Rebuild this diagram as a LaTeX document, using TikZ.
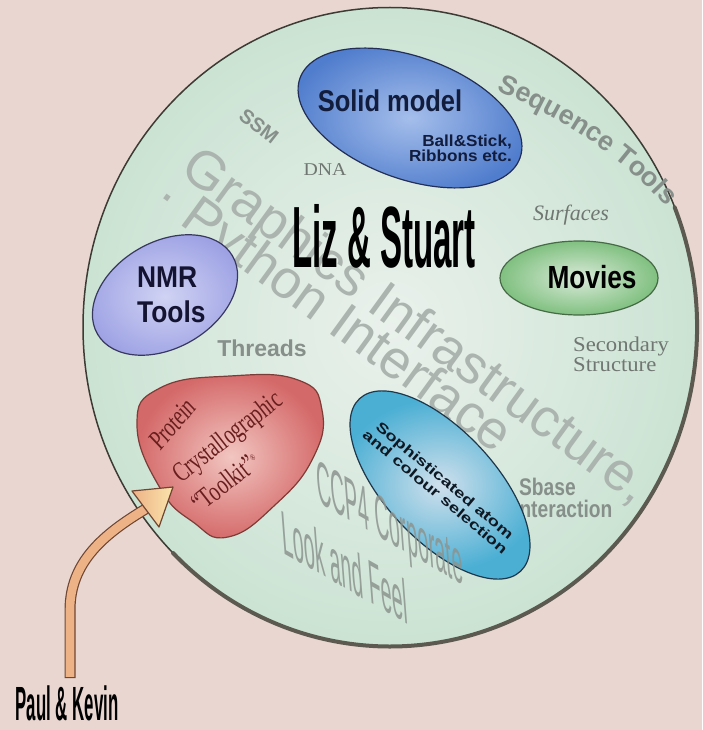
\documentclass[tikz,border=0pt]{standalone}
\usepackage{fontspec}
\setmainfont{Liberation Serif}
\setsansfont{Liberation Sans}
\usetikzlibrary{decorations.text}

\definecolor{bgpink}{RGB}{233,214,209}
\definecolor{mintout}{RGB}{203,227,211}
\definecolor{mintin}{RGB}{234,241,236}
\definecolor{rimdark}{RGB}{60,60,52}
\definecolor{rimshadow}{RGB}{92,90,80}
\definecolor{wmgray}{RGB}{172,180,175}
\definecolor{lblgray}{RGB}{135,143,138}
\definecolor{ccpgray}{RGB}{140,148,143}
\definecolor{serifgray}{RGB}{112,118,113}
\definecolor{solidbase}{RGB}{80,125,205}
\definecolor{solidlight}{RGB}{165,190,235}
\definecolor{solidedge}{RGB}{35,45,85}
\definecolor{solidink}{RGB}{18,28,60}
\definecolor{nmrbase}{RGB}{158,162,228}
\definecolor{nmrlight}{RGB}{208,211,243}
\definecolor{nmredge}{RGB}{55,55,95}
\definecolor{nmrink}{RGB}{20,20,50}
\definecolor{movbase}{RGB}{128,192,128}
\definecolor{movlight}{RGB}{218,234,218}
\definecolor{movedge}{RGB}{70,105,70}
\definecolor{protbase}{RGB}{212,105,105}
\definecolor{protlight}{RGB}{242,198,193}
\definecolor{protedge}{RGB}{125,60,55}
\definecolor{protink}{RGB}{105,30,30}
\definecolor{sophbase}{RGB}{75,175,212}
\definecolor{sophlight}{RGB}{208,224,236}
\definecolor{sophedge}{RGB}{30,55,75}
\definecolor{sophink}{RGB}{15,25,35}
\definecolor{arrowfill}{RGB}{238,178,135}
\definecolor{arrowlight}{RGB}{250,228,172}
\definecolor{arrowedge}{RGB}{110,70,50}

\newcommand{\seqfont}{\sffamily\bfseries\fontsize{27}{27}\selectfont}

\begin{document}
\begin{tikzpicture}[x=1pt, y=-1pt,
  lbl/.style={text=lblgray, inner sep=0, font=\sffamily\bfseries\fontsize{23}{23}\selectfont},
  serifl/.style={text=serifgray, inner sep=0},
  wm/.style={text=wmgray, inner sep=0, font=\sffamily\fontsize{54}{54}\selectfont, rotate=-36},
  ccp/.style={text=ccpgray, opacity=0.85, inner sep=0, anchor=base west,
    font=\sffamily\fontsize{60}{60}\selectfont, yslant=-0.57, xslant=-0.08, xscale=0.33},
  heading/.style={inner sep=0, font=\sffamily\bfseries\fontsize{30}{30}\selectfont},
  prot/.style={text=protink, inner sep=0, anchor=base west, font=\rmfamily\fontsize{28}{28}\selectfont, rotate=38, xscale=0.7},
  bubble/.style={line width=1.2pt}
]
\useasboundingbox (0,0) rectangle (702,730);
\fill[bgpink] (0,0) rectangle (702,730);

% main disc
\shade[inner color=mintin, outer color=mintout] (390,327) ellipse[x radius=307, y radius=319.5];
\draw[rimdark, line width=1.5pt] (390,327) ellipse[x radius=307, y radius=319.5];
\draw[rimshadow, line width=4pt, line cap=round] (390,327) ++(-22:307 and 319.5)
  arc[start angle=-22, end angle=135, x radius=307, y radius=319.5];

% watermark text
\node[wm] (graphics) at (415,328) {Graphics Infrastructure,};
\node[wm] (python) at (332,318) {· Python Interface};

% grey labels
\path[decorate, decoration={text along path, text color=lblgray, text align=center,
  text={|\seqfont|Sequence Tools}}] (472,80) .. controls (545,110) and (625,150) .. (683,228);
\node[lbl, rotate=-38, font=\sffamily\bfseries\fontsize{20}{20}\selectfont] (ssm) at (259,126) {SSM};
\node[serifl, font=\rmfamily\fontsize{18}{18}\selectfont, xscale=1.1] (dna) at (325,170) {DNA};
\node[serifl, font=\rmfamily\itshape\fontsize{22}{22}\selectfont] (surf) at (571,215) {Surfaces};
\node[serifl, anchor=west, font=\rmfamily\fontsize{21}{21}\selectfont, xscale=1.08] (sec1) at (573,346) {Secondary};
\node[serifl, anchor=west, font=\rmfamily\fontsize{21}{21}\selectfont, xscale=1.08] (sec2) at (573,365) {Structure};
\node[lbl] (threads) at (262,348) {Threads};
\node[lbl, anchor=west, font=\sffamily\bfseries\fontsize{24}{24}\selectfont, xscale=0.8] (sbase) at (519,487) {Sbase};
\node[lbl, anchor=west, font=\sffamily\bfseries\fontsize{24}{24}\selectfont, xscale=0.8] (inter) at (514,509) {Interaction};

% Liz & Stuart
\node[inner sep=0, font=\sffamily\bfseries\fontsize{87}{87}\selectfont, xscale=0.38] (liz) at (384,236) {Liz \& Stuart};

% Solid model
\shadedraw[bubble, shift={(410,118)}, rotate=-20, inner color=solidlight, outer color=solidbase, draw=solidedge]
  (0,0) ellipse[x radius=117, y radius=61];
\node[heading, text=solidink, xscale=0.85] (solid) at (390,101) {Solid model};
\node[inner sep=0, anchor=east, align=right, text=solidink, xscale=1.07,
  font=\sffamily\bfseries\fontsize{16}{15}\selectfont] (ball) at (512,148) {Ball\&Stick,\\Ribbons etc.};

% NMR
\shadedraw[bubble, shift={(165,295)}, rotate=30, inner color=nmrlight, outer color=nmrbase, draw=nmredge]
  (0,0) ellipse[x radius=78, y radius=53];
\node[heading, text=nmrink, anchor=west, xscale=0.88] (nmr) at (137,277) {NMR};
\node[heading, text=nmrink, anchor=west, xscale=0.88] (tools) at (137,312) {Tools};

% Movies
\shadedraw[bubble, inner color=movlight, outer color=movbase, draw=movedge]
  (579,278) ellipse[x radius=79, y radius=37];
\node[heading, font=\sffamily\bfseries\fontsize{32}{32}\selectfont, xscale=0.82] (movies) at (592,277) {Movies};

% Protein blob
\shadedraw[bubble, inner color=protlight, outer color=protbase, draw=protedge]
  plot[smooth cycle, tension=0.8] coordinates {(137,425) (160,388) (230,376) (298,380) (322,410) (313,458) (275,505) (228,537) (193,522) (160,488)};
\node[prot, rotate=8] (p1) at (160,452) {Protein};
\node[prot] (p2) at (181,484) {Crystallographic};
\node[prot] (p3) at (200,514) {“Toolkit”\textsuperscript{\fontsize{9}{9}\selectfont ®}};

% Sophisticated
\shadedraw[bubble, shift={(440,485)}, rotate=-47, inner color=sophlight, outer color=sophbase, draw=sophedge]
  (0,0) ellipse[x radius=118, y radius=55];
\node[inner sep=0, align=center, text=sophink, rotate=-40, xscale=1.35,
  font=\sffamily\bfseries\fontsize{14}{15}\selectfont] (soph) at (440,486) {Sophisticated atom\\and colour selection};

% CCP4
\node[ccp] (ccp1) at (318,502) {CCP4 Corporate};
\node[ccp] (ccp2) at (283,553) {Look and Feel};

% Paul & Kevin arrow
\node[inner sep=0, font=\sffamily\bfseries\fontsize{48}{48}\selectfont, xscale=0.35] (paul) at (67,703) {Paul \& Kevin};
\coordinate (shaftstart) at (70,678);
\coordinate (arrowbase) at (145.5,509);
\coordinate (tip) at (173,487);
\draw[arrowedge, line width=11pt] (shaftstart) -- (70,610) .. controls (70,562) and (104,534) .. (arrowbase);
\draw[arrowfill, line width=8.6pt, shorten <=1.2pt] (shaftstart) -- (70,610) .. controls (70,562) and (104,534) .. (arrowbase);
\shadedraw[line width=1.2pt, line join=round, draw=arrowedge, left color=arrowfill, right color=arrowlight]
  (tip) -- (132,491) -- (159,527) -- cycle;
\end{tikzpicture}
\end{document}
